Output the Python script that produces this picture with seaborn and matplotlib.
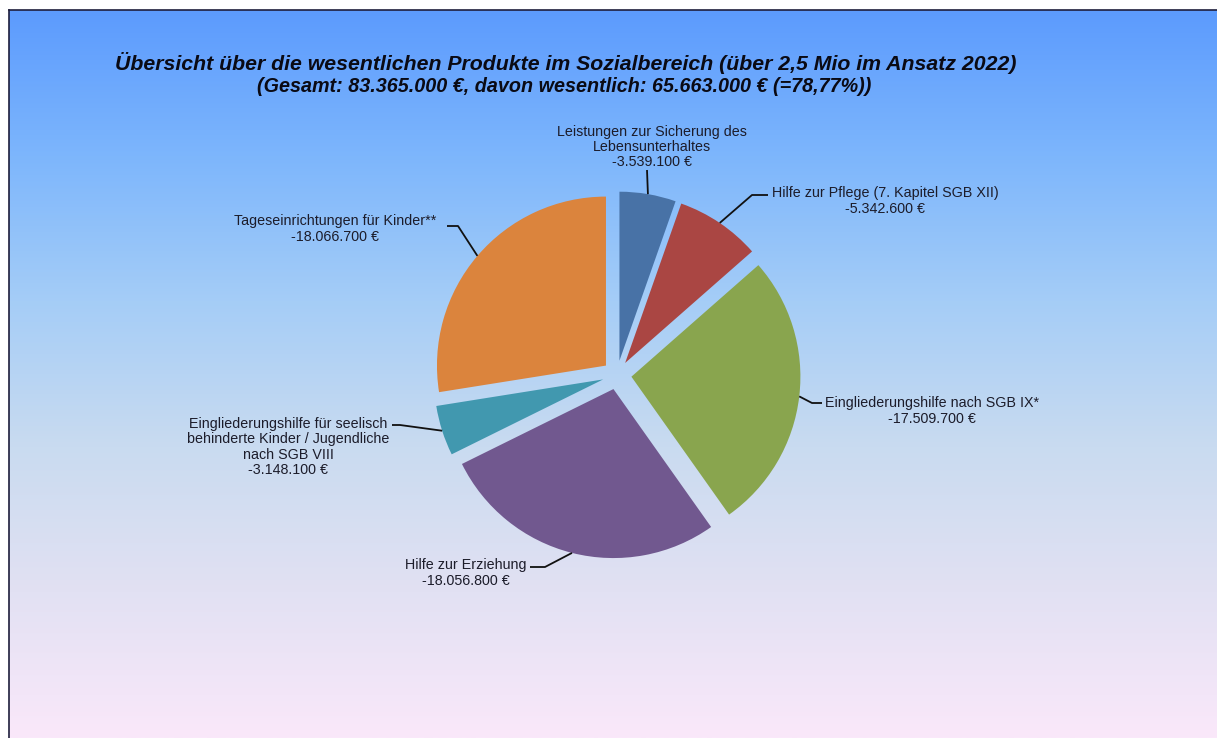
import numpy as np
import matplotlib
matplotlib.use('Agg')
import matplotlib.pyplot as plt
from matplotlib.colors import LinearSegmentedColormap
import seaborn as sns

# Produkte, im Uhrzeigersinn ab 12 Uhr
labels = [
    'Leistungen zur Sicherung des\nLebensunterhaltes',
    'Hilfe zur Pflege (7. Kapitel SGB XII)',
    'Eingliederungshilfe nach SGB IX*',
    'Hilfe zur Erziehung',
    'Eingliederungshilfe für seelisch\nbehinderte Kinder / Jugendliche\nnach SGB VIII',
    'Tageseinrichtungen für Kinder**',
]
values = [3539100, 5342600, 17509700, 18056800, 3148100, 18066700]
colors = ['#4872A6', '#AA4643', '#89A54E', '#71588F', '#4198AF', '#DB843D']

title_1 = 'Übersicht über die wesentlichen Produkte im Sozialbereich (über 2,5 Mio im Ansatz 2022)'
title_2 = '(Gesamt: 83.365.000 €, davon wesentlich: 65.663.000 € (=78,77%))'

W, H = 1217, 738
# label text centre (px, y from top) and leader elbow points (px, y from top)
text_pos = [(652, 147), (885, 201), (932, 411), (466, 573), (288, 447), (335, 229)]
elbows = [
    [(647, 170)],
    [(752, 195), (768, 195)],
    [(812, 403), (822, 403)],
    [(545, 567), (530, 567)],
    [(400, 425), (392, 425)],
    [(458, 226), (447, 226)],
]


def fmt_eur(v):
    return '-' + f'{v:,}'.replace(',', '.') + ' €'


sns.set_style('white')
plt.rcParams['font.family'] = ['Liberation Sans', 'DejaVu Sans']
palette = sns.color_palette(colors)

fig = plt.figure(figsize=(W / 100, H / 100), dpi=100)

# gradient background with frame on top and left
bg = fig.add_axes([9 / W, 0, 1 - 9 / W, (H - 10) / H])
grad = LinearSegmentedColormap.from_list(
    'bg', ['#5C9BFE', '#7DB6FC', '#A5CDF7', '#C9DBF0', '#E2E1F3', '#FAE8FA'])
bg.imshow(np.linspace(0, 1, 256).reshape(-1, 1), aspect='auto', cmap=grad,
          extent=[0, 1, 0, 1], origin='upper')
bg.set_xticks([])
bg.set_yticks([])
for side in ['right', 'bottom']:
    bg.spines[side].set_visible(False)
for side in ['left', 'top']:
    bg.spines[side].set_color('#1E1E3C')
    bg.spines[side].set_linewidth(1.2)

ax = fig.add_axes([0, 0, 1, 1])
ax.axis('off')

cx, cy, R = 617, H - 375, 169
gap = 14.5  # explode distance in px (pie explode is in data units)
explode = [gap] * len(values)
wedges, _ = ax.pie(values, colors=palette, startangle=90, counterclock=False,
                   center=(cx, cy), radius=R, explode=explode,
                   wedgeprops=dict(linewidth=0))
ax.set_xlim(0, W)
ax.set_ylim(0, H)
ax.set_aspect('auto')

for w, lab, v, tp, elb in zip(wedges, labels, values, text_pos, elbows):
    mid = np.deg2rad((w.theta1 + w.theta2) / 2)
    r = R + gap
    ax_pt = (cx + r * np.cos(mid), cy + r * np.sin(mid))
    xs = [ax_pt[0]] + [p[0] for p in elb]
    ys = [ax_pt[1]] + [H - p[1] for p in elb]
    ax.plot(xs, ys, color='#111111', lw=1.3, solid_capstyle='butt')
    ax.text(tp[0], H - tp[1], lab + '\n' + fmt_eur(v), ha='center', va='center',
            fontsize=10.3, color='#1C1C2A', linespacing=1.1)

fig.text(566 / W, 1 - 63 / H, title_1, ha='center', va='center', fontsize=15.3,
         fontweight='bold', fontstyle='italic', color='#0A0A14')
fig.text(564 / W, 1 - 87 / H, title_2, ha='center', va='center', fontsize=14.2,
         fontweight='bold', fontstyle='italic', color='#0A0A14')

fig.savefig('out.png', dpi=100, facecolor='white')
